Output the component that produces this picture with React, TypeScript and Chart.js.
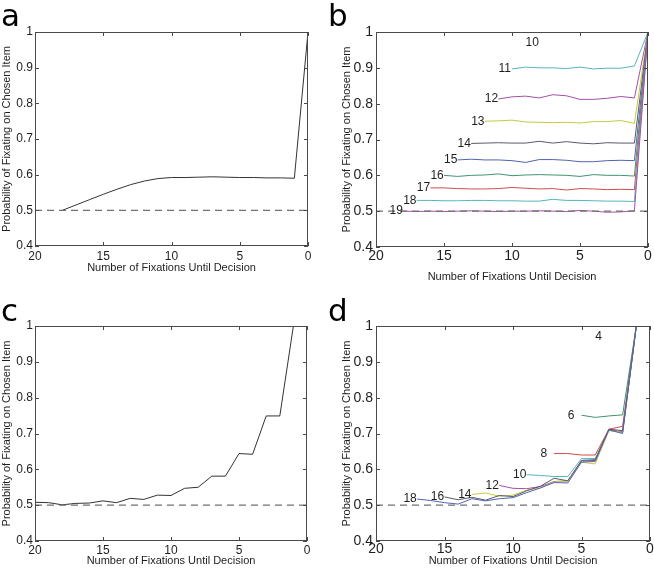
import React, { useEffect, useRef } from "react";
import { Chart, registerables } from "chart.js";

Chart.register(...registerables);

const FONT = "'Liberation Sans', Arial, Helvetica, sans-serif";
const LETTER_FONT = "'DejaVu Sans', Verdana, sans-serif";

// ---------- shared axis content ----------
const xTickValues = [0, 5, 10, 15, 20];
const yTickValues = [0.4, 0.5, 0.6, 0.7, 0.8, 0.9, 1];
const xAxisTitle = "Number of Fixations Until Decision";
const yAxisTitle = "Probability of Fixating on Chosen Item";
const chanceLevel = 0.5;

// ---------- panel a (x from 18 down to 0) ----------
const aStart = 18;
const aValues = [0.5, 0.515, 0.53, 0.545, 0.559, 0.572, 0.582, 0.589, 0.592, 0.592, 0.593, 0.594, 0.593, 0.592, 0.592, 0.591, 0.591, 0.59, 1.0];

// ---------- panel b (series N starts at x = N-1, ends at x = 0) ----------
const b19 = [0.5, 0.499, 0.5, 0.499, 0.5, 0.501, 0.5, 0.499, 0.5, 0.5, 0.501, 0.5, 0.499, 0.502, 0.5, 0.497, 0.498, 0.501, 1.0];
const b18 = [0.53, 0.53, 0.529, 0.529, 0.53, 0.53, 0.529, 0.529, 0.528, 0.528, 0.533, 0.53, 0.53, 0.529, 0.528, 0.528, 0.527, 1.0];
const b17 = [0.565, 0.565, 0.563, 0.562, 0.562, 0.563, 0.566, 0.564, 0.562, 0.563, 0.559, 0.563, 0.562, 0.56, 0.561, 0.56, 1.0];
const b16 = [0.6, 0.597, 0.6, 0.601, 0.604, 0.599, 0.601, 0.602, 0.601, 0.6, 0.597, 0.602, 0.6, 0.6, 0.598, 1.0];
const b15 = [0.643, 0.645, 0.643, 0.643, 0.641, 0.636, 0.644, 0.644, 0.642, 0.638, 0.638, 0.641, 0.642, 0.641, 1.0];
const b14 = [0.689, 0.69, 0.691, 0.69, 0.69, 0.695, 0.69, 0.694, 0.69, 0.688, 0.691, 0.69, 0.69, 1.0];
const b13 = [0.751, 0.752, 0.754, 0.749, 0.748, 0.747, 0.748, 0.746, 0.75, 0.75, 0.753, 0.745, 1.0];
const b12 = [0.813, 0.819, 0.821, 0.816, 0.825, 0.822, 0.812, 0.812, 0.815, 0.82, 0.816, 1.0];
const b11 = [0.897, 0.902, 0.9, 0.9, 0.898, 0.902, 0.897, 0.899, 0.899, 0.905, 1.0];
const bSeries = [
  { n: 19, values: b19, color: "#a34fa8" },
  { n: 18, values: b18, color: "#52b7bf" },
  { n: 17, values: b17, color: "#d24b4b" },
  { n: 16, values: b16, color: "#3f9470" },
  { n: 15, values: b15, color: "#5162b3" },
  { n: 14, values: b14, color: "#5a5a66" },
  { n: 13, values: b13, color: "#c9c940" },
  { n: 12, values: b12, color: "#a34fa8" },
  { n: 11, values: b11, color: "#52b7bf" },
];
const bExtraLabel = { text: "10", x: 9, y: 0.97 };

// ---------- panel c (x from 20 down to 1) ----------
const cStart = 20;
const cValues = [0.508, 0.507, 0.501, 0.505, 0.506, 0.512, 0.507, 0.519, 0.516, 0.528, 0.527, 0.547, 0.55, 0.581, 0.581, 0.644, 0.642, 0.749, 0.749, 1.0];

// ---------- panel d (series N starts at x = N-1, ends at x = 1) ----------
const d18 = [0.517, 0.513, 0.507, 0.503, 0.518, 0.512, 0.518, 0.521, 0.535, 0.548, 0.563, 0.562, 0.62, 0.622, 0.71, 0.7, 1.0];
const d16 = [0.523, 0.515, 0.522, 0.514, 0.527, 0.524, 0.54, 0.553, 0.575, 0.568, 0.625, 0.627, 0.712, 0.708, 1.0];
const d14 = [0.53, 0.534, 0.525, 0.528, 0.542, 0.548, 0.565, 0.567, 0.62, 0.615, 0.708, 0.703, 1.0];
const d12 = [0.555, 0.547, 0.546, 0.552, 0.566, 0.568, 0.623, 0.625, 0.71, 0.705, 1.0];
const d10 = [0.585, 0.583, 0.58, 0.58, 0.63, 0.63, 0.71, 0.703, 1.0];
const d8 = [0.644, 0.644, 0.64, 0.64, 0.712, 0.72, 1.0];
const d6 = [0.751, 0.745, 0.749, 0.752, 1.0];
const dSeries = [
  { n: 18, values: d18, color: "#5162b3" },
  { n: 16, values: d16, color: "#5a5a66" },
  { n: 14, values: d14, color: "#c9c940" },
  { n: 12, values: d12, color: "#a34fa8" },
  { n: 10, values: d10, color: "#52b7bf" },
  { n: 8, values: d8, color: "#d24b4b" },
  { n: 6, values: d6, color: "#3f9470" },
];
const dExtraLabel = { text: "4", x: 4, y: 0.969 };

// ---------- helpers ----------
const toPoints = (start: number, values: number[]) =>
  values.map((v, i) => ({ x: start - i, y: v }));

const chanceDataset = () => ({
  data: [
    { x: 20, y: chanceLevel },
    { x: 0, y: chanceLevel },
  ],
  borderColor: "#707070",
  borderWidth: 1.3,
  borderDash: [7, 5],
  pointRadius: 0,
  order: 0,
});

const lineDataset = (points: { x: number; y: number }[], color: string) => ({
  data: points,
  borderColor: color,
  borderWidth: 1,
  pointRadius: 0,
  tension: 0,
  order: 1,
});

const framePlugin = {
  id: "frame",
  afterDatasetsDraw(chart: any, _args: any, opts: any) {
    const { ctx, chartArea: a, scales } = chart;
    const xs = scales.x;
    const ys = scales.y;
    ctx.save();
    ctx.strokeStyle = "#4a4a4a";
    ctx.lineWidth = 1;
    ctx.strokeRect(a.left + 0.5, a.top + 0.5, a.right - a.left - 1, a.bottom - a.top - 1);
    const tl = 4;
    ctx.beginPath();
    xTickValues.forEach((v) => {
      const px = Math.round(xs.getPixelForValue(v)) + 0.5;
      ctx.moveTo(px, a.bottom);
      ctx.lineTo(px, a.bottom - tl);
      ctx.moveTo(px, a.top);
      ctx.lineTo(px, a.top + tl);
    });
    yTickValues.forEach((v) => {
      const py = Math.round(ys.getPixelForValue(v)) + 0.5;
      ctx.moveTo(a.left, py);
      ctx.lineTo(a.left + tl, py);
      ctx.moveTo(a.right, py);
      ctx.lineTo(a.right - tl, py);
    });
    ctx.stroke();

    // inline series labels
    ctx.fillStyle = "#1e1e1e";
    ctx.font = `${opts.labelSize || 12}px ${FONT}`;
    ctx.textAlign = "left";
    ctx.textBaseline = "middle";
    (opts.labels || []).forEach((l: any) => {
      ctx.fillText(l.text, xs.getPixelForValue(l.x), ys.getPixelForValue(l.y));
    });

    // panel letter
    ctx.font = `${opts.letterSize}px ${LETTER_FONT}`;
    ctx.textBaseline = "alphabetic";
    ctx.fillStyle = "#000";
    ctx.fillText(opts.letter, opts.letterX, opts.letterY);
    ctx.restore();
  },
};

type PanelSpec = {
  left: number;
  top: number;
  width: number;
  height: number;
  padding: { left: number; top: number; right: number; bottom: number };
  yWidth: number;
  xHeight: number;
  tickSize: number;
  xTickPad: number;
  yTickPad: number;
  xTitlePad: number;
  yTitlePad: number;
  datasets: any[];
  labels: { text: string; x: number; y: number }[];
  letter: string;
  letterX: number;
  letterY: number;
};

function Panel({ spec }: { spec: PanelSpec }) {
  const ref = useRef<HTMLCanvasElement | null>(null);
  useEffect(() => {
    if (!ref.current) return;
    const chart = new Chart(ref.current, {
      type: "line",
      data: { datasets: spec.datasets },
      plugins: [framePlugin],
      options: {
        responsive: false,
        animation: false,
        events: [],
        layout: { padding: spec.padding },
        plugins: {
          legend: { display: false },
          tooltip: { enabled: false },
          frame: {
            labels: spec.labels,
            labelSize: 12,
            letter: spec.letter,
            letterX: spec.letterX,
            letterY: spec.letterY,
            letterSize: 31,
          },
        } as any,
        scales: {
          x: {
            type: "linear",
            min: 0,
            max: 20,
            reverse: true,
            grid: { display: false, drawTicks: false },
            border: { display: false },
            ticks: {
              stepSize: 5,
              maxRotation: 0,
              autoSkip: false,
              padding: spec.xTickPad,
              color: "#1e1e1e",
              font: { family: FONT, size: spec.tickSize },
            },
            title: {
              display: true,
              text: xAxisTitle,
              color: "#1e1e1e",
              font: { family: FONT, size: 11 },
              padding: { top: 0, bottom: spec.xTitlePad },
            },
            afterFit: (s: any) => {
              s.height = spec.xHeight;
            },
          },
          y: {
            type: "linear",
            min: 0.4,
            max: 1,
            grid: { display: false, drawTicks: false },
            border: { display: false },
            ticks: {
              stepSize: 0.1,
              padding: spec.yTickPad,
              color: "#1e1e1e",
              font: { family: FONT, size: spec.tickSize },
              callback: (v: any) => String(Math.round(Number(v) * 10) / 10),
            },
            title: {
              display: true,
              text: yAxisTitle,
              color: "#1e1e1e",
              font: { family: FONT, size: 11 },
              padding: { top: spec.yTitlePad, bottom: 0 },
            },
            afterFit: (s: any) => {
              s.width = spec.yWidth;
            },
          },
        },
      } as any,
    });
    return () => chart.destroy();
  }, [spec]);
  return (
    <canvas
      ref={ref}
      width={spec.width}
      height={spec.height}
      style={{
        position: "absolute",
        left: spec.left,
        top: spec.top,
        width: spec.width,
        height: spec.height,
      }}
    />
  );
}

const panelA: PanelSpec = {
  left: 0,
  top: 0,
  width: 327,
  height: 284,
  padding: { left: 0, top: 32, right: 19, bottom: 0 },
  yWidth: 35,
  xHeight: 38,
  tickSize: 12,
  xTickPad: 3,
  yTickPad: 2,
  xTitlePad: 9,
  yTitlePad: 0,
  datasets: [chanceDataset(), lineDataset(toPoints(aStart, aValues), "#333333")],
  labels: [],
  letter: "a",
  letterX: 1,
  letterY: 26,
};

const panelB: PanelSpec = {
  left: 327,
  top: 0,
  width: 327,
  height: 284,
  padding: { left: 13, top: 32, right: 6, bottom: 0 },
  yWidth: 36,
  xHeight: 37,
  tickSize: 14,
  xTickPad: 1,
  yTickPad: 3,
  xTitlePad: 0,
  yTitlePad: 0,
  datasets: [
    chanceDataset(),
    ...bSeries.map((s) => lineDataset(toPoints(s.n - 1, s.values), s.color)),
  ],
  labels: [
    ...bSeries.map((s) => ({ text: String(s.n), x: s.n, y: s.values[0] })),
    bExtraLabel,
  ],
  letter: "b",
  letterX: 1,
  letterY: 26,
};

const panelC: PanelSpec = {
  left: 0,
  top: 284,
  width: 327,
  height: 284,
  padding: { left: 0, top: 42, right: 20, bottom: 0 },
  yWidth: 35,
  xHeight: 27,
  tickSize: 12,
  xTickPad: 2,
  yTickPad: 2,
  xTitlePad: 0,
  yTitlePad: 0,
  datasets: [chanceDataset(), lineDataset(toPoints(cStart, cValues), "#333333")],
  labels: [],
  letter: "c",
  letterX: 1,
  letterY: 37,
};

const panelD: PanelSpec = {
  left: 327,
  top: 284,
  width: 327,
  height: 284,
  padding: { left: 13, top: 42, right: 4, bottom: 0 },
  yWidth: 36,
  xHeight: 27,
  tickSize: 14,
  xTickPad: 0,
  yTickPad: 3,
  xTitlePad: 0,
  yTitlePad: 0,
  datasets: [
    chanceDataset(),
    ...dSeries.map((s) => lineDataset(toPoints(s.n - 1, s.values), s.color)),
  ],
  labels: [
    ...dSeries.map((s) => ({ text: String(s.n), x: s.n, y: s.values[0] })),
    dExtraLabel,
  ],
  letter: "d",
  letterX: 1,
  letterY: 37,
};

export default function App() {
  return (
    <div
      style={{
        position: "fixed",
        left: 0,
        top: 0,
        width: 654,
        height: 568,
        background: "#ffffff",
        overflow: "hidden",
      }}
    >
      <Panel spec={panelA} />
      <Panel spec={panelB} />
      <Panel spec={panelC} />
      <Panel spec={panelD} />
    </div>
  );
}
